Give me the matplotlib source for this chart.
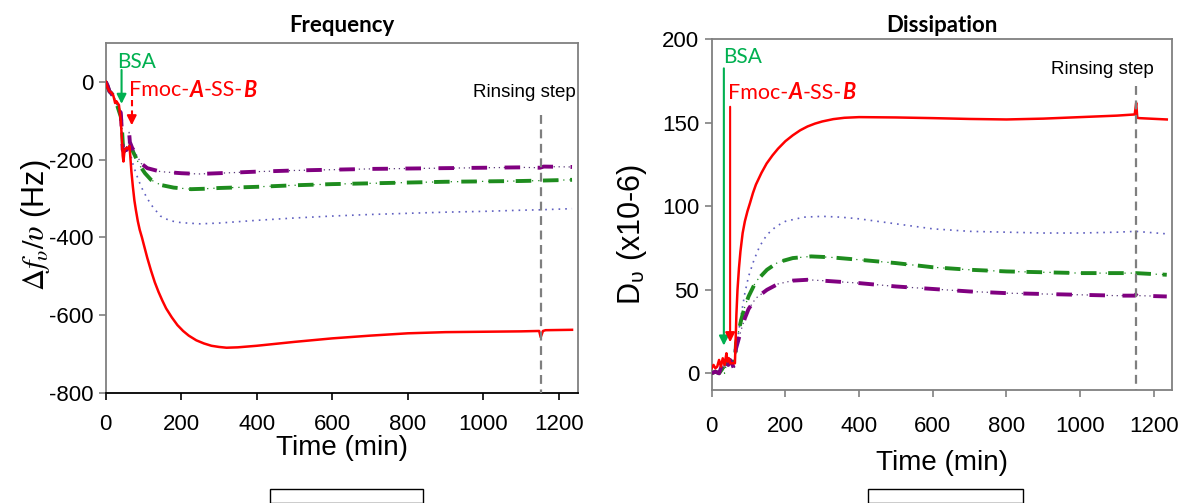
import matplotlib
matplotlib.use("Agg")
import matplotlib.pyplot as plt
from matplotlib.transforms import IdentityTransform

plt.rcParams["mathtext.fontset"] = "stix"

# ---------------- data ----------------
# Frequency panel (Hz)
f_red_t = [0, 5, 10, 15, 20, 25, 28, 35, 40, 43, 45, 47, 50, 55, 60, 63, 65, 68, 72, 76, 80, 85, 90, 96, 100,
           110, 120, 130, 140, 150, 160, 175, 190, 205, 220, 240, 260, 280, 300, 320, 350, 400, 500, 600, 700,
           800, 900, 1000, 1100, 1148, 1152, 1158, 1165, 1235]
f_red_v = [0, -15, -25, -28, -35, -55, -50, -60, -100, -150, -190, -205, -175, -170, -172, -165, -190, -230,
           -270, -305, -330, -358, -380, -400, -415, -452, -485, -515, -540, -562, -582, -605, -625, -640,
           -652, -664, -672, -678, -681, -683, -682, -678, -668, -659, -652, -646, -643, -642, -641, -640,
           -656, -640, -638, -637]

f_pur_t = [0, 5, 10, 15, 20, 25, 30, 35, 40, 43, 45, 48, 52, 56, 60, 62, 64, 70, 80, 94, 110, 145, 200, 246,
           300, 400, 500, 600, 700, 800, 900, 1000, 1100, 1150, 1160, 1235]
f_pur_v = [0, -10, -25, -30, -40, -50, -55, -70, -80, -130, -175, -180, -175, -175, -165, -130, -155, -170,
           -185, -210, -222, -231, -235, -237, -235, -231, -228, -226, -224, -223, -222, -221, -220, -221,
           -218, -219]

f_grn_t = [0, 5, 10, 15, 20, 25, 30, 35, 40, 43, 46, 50, 55, 60, 63, 66, 70, 80, 90, 104, 120, 145, 180, 226,
           260, 300, 400, 500, 600, 700, 800, 900, 1000, 1100, 1150, 1235]
f_grn_v = [0, -12, -25, -30, -35, -45, -60, -75, -90, -120, -170, -175, -170, -165, -158, -165, -175, -195,
           -215, -235, -252, -265, -272, -276, -275, -273, -270, -266, -263, -261, -259, -257, -256, -255,
           -254, -252]

f_blu_t = [0, 10, 20, 30, 40, 45, 55, 63, 70, 80, 94, 110, 125, 145, 170, 200, 250, 300, 400, 500, 600, 700,
           800, 900, 1000, 1100, 1150, 1235]
f_blu_v = [0, -25, -35, -60, -90, -170, -175, -170, -205, -235, -270, -300, -322, -345, -357, -362, -365,
           -363, -356, -350, -345, -341, -338, -335, -333, -330, -329, -326]

# Dissipation panel (x1e-6)
d_red_t = [0, 5, 10, 15, 20, 25, 30, 35, 40, 43, 47, 50, 55, 60, 63, 65, 67, 70, 74, 78, 84, 90, 97, 104, 112,
           120, 135, 149, 165, 180, 200, 220, 240, 260, 280, 300, 330, 360, 400, 500, 600, 700, 800, 900,
           1000, 1100, 1148, 1152, 1155, 1160, 1235]
d_red_v = [3, 5, 3, 4, 8, 4, 9, 5, 12, 7, 9, 6, 6, 6, 6, 20, 35, 50, 63, 73, 84, 91, 97, 102, 108, 113, 120,
           125.6, 130.5, 134.5, 139, 142.5, 145.5, 147.8, 149.5, 150.8, 152.2, 153, 153.4, 153.2, 152.8, 152.3,
           152, 152.5, 153.4, 154.3, 155, 162, 153, 152.8, 152]

d_blu_t = [0, 20, 40, 63, 70, 80, 90, 100, 115, 130, 150, 175, 200, 250, 300, 350, 400, 500, 600, 700, 800,
           900, 1000, 1100, 1150, 1235]
d_blu_v = [0, 1, 5, 8, 20, 35, 48, 58, 68, 76, 83, 88, 91, 93.5, 94, 93.5, 92.5, 89.5, 86.5, 85, 84.5, 84,
           84, 84.5, 85, 83.5]

d_grn_t = [0, 10, 20, 30, 35, 40, 45, 50, 55, 60, 63, 66, 70, 80, 90, 100, 120, 150, 180, 220, 270, 320, 400,
           500, 600, 700, 800, 900, 1000, 1100, 1150, 1235]
d_grn_v = [0, 1, 0, 3, 0, 6, 8, 6, 7, 7, 6, 18, 22, 32, 40, 46, 55, 62, 66.5, 69, 70, 69.5, 68, 66, 63.5, 62,
           61, 60.5, 60, 60, 60, 59]

d_pur_t = [0, 10, 20, 25, 30, 35, 40, 45, 50, 55, 60, 63, 65, 70, 80, 90, 100, 120, 150, 180, 220, 260, 300,
           400, 500, 600, 700, 800, 900, 1000, 1100, 1148, 1155, 1160, 1235]
d_pur_v = [0, 1, 0, 3, 6, 3, 7, 5, 8, 6, 3, 4, 14, 18, 26, 33, 38.5, 45, 50, 53.5, 55.5, 56, 55.5, 54, 52,
           50.5, 49, 48, 47.5, 47, 46.5, 46.5, 48, 46.5, 46]

x_ticks = [0, 200, 400, 600, 800, 1000, 1200]
f_yticks = [0, -200, -400, -600, -800]
d_yticks = [0, 50, 100, 150, 200]
rinse_t = 1152

# ---------------- style ----------------
W, H = 1184, 503
fig = plt.figure(figsize=(W / 100, H / 100), dpi=100)
TICKFONT = "Liberation Sans"
CAL = "Lato"
RED = "#ff0000"
GRN_TXT = "#00b050"
GRN = "#1e8c1e"
PUR = "#800080"
BLU = "#5f5fc0"
SPINE = "#808080"


def fpos(l, r, t, b):
    return [l / W, 1 - b / H, (r - l) / W, (b - t) / H]


axF = fig.add_axes(fpos(105.7, 577.7, 42.7, 393.3))
axD = fig.add_axes(fpos(711.7, 1172.3, 39.3, 390.0))


def draw_series(ax, red, blu, grn, pur):
    ax.plot(*blu, color=BLU, lw=1.2, ls=(0, (1, 3)), zorder=2)
    ax.plot(*grn, color=GRN, lw=0.9, ls=(0, (1, 4)), zorder=3)
    ax.plot(*grn, color=GRN, lw=2.8, ls=(0, (4, 3)), zorder=3)
    ax.plot(*pur, color="#5a3a7a", lw=0.9, ls=(0, (1, 3)), zorder=3)
    ax.plot(*pur, color=PUR, lw=2.8, ls=(0, (4, 4.5)), zorder=3)
    ax.plot(*red, color=RED, lw=1.8, zorder=4)


draw_series(axF, (f_red_t, f_red_v), (f_blu_t, f_blu_v), (f_grn_t, f_grn_v), (f_pur_t, f_pur_v))
draw_series(axD, (d_red_t, d_red_v), (d_blu_t, d_blu_v), (d_grn_t, d_grn_v), (d_pur_t, d_pur_v))

axF.set_xlim(0, 1250)
axF.set_ylim(-800, 100)
axD.set_xlim(0, 1250)
axD.set_ylim(-10, 200)

for ax, yt in ((axF, f_yticks), (axD, d_yticks)):
    ax.set_xticks(x_ticks)
    ax.set_yticks(yt)
    ax.set_xticklabels([str(v) for v in x_ticks], fontfamily=TICKFONT, fontsize=16)
    ax.set_yticklabels([str(v) for v in yt], fontfamily=TICKFONT, fontsize=16)
    ax.tick_params(direction="out", length=5, width=1.2, color=SPINE)
    for s in ax.spines.values():
        s.set_color(SPINE)
        s.set_linewidth(1.3)
axF.spines["bottom"].set_color("black")
axF.tick_params(axis="x", pad=10, color="black")
axD.tick_params(axis="x", pad=14)
axF.tick_params(axis="y", pad=4)
axD.tick_params(axis="y", pad=4)

# rinsing step lines
axF.plot([rinse_t, rinse_t], [-85, -800], color="#7f7f7f", lw=1.6, ls=(0, (4, 2.5)), zorder=5)
axD.plot([rinse_t, rinse_t], [172, -10], color="#7f7f7f", lw=1.6, ls=(0, (4, 2.5)), zorder=5)
axF.text(1245, -27, "Rinsing step", fontfamily=TICKFONT, fontsize=13.5, ha="right", va="center")
axD.text(1200, 182, "Rinsing step", fontfamily=TICKFONT, fontsize=13.5, ha="right", va="center")

# titles / labels
fig.text(341.7 / W, 1 - 25 / H, "Frequency", fontfamily=CAL, fontweight="bold", fontsize=16,
         ha="center", va="center")
fig.text(942 / W, 1 - 25 / H, "Dissipation", fontfamily=CAL, fontweight="bold", fontsize=16,
         ha="center", va="center")
fig.text(341.7 / W, 1 - 448 / H, "Time (min)", fontfamily=TICKFONT, fontsize=20, ha="center", va="center")
fig.text(942 / W, 1 - 463 / H, "Time (min)", fontfamily=TICKFONT, fontsize=20, ha="center", va="center")
fig.text(36 / W, 1 - 225 / H, r"$\Delta f_{\upsilon}/\upsilon$ (Hz)", fontfamily=TICKFONT, fontsize=22,
         rotation=90, ha="center", va="center")
fig.text(632 / W, 1 - 235 / H, r"D$_{\mathregular{\upsilon}}$ (x10-6)", fontfamily=TICKFONT, fontsize=22,
         rotation=90, ha="center", va="center")

# empty boxes at bottom
for (l, r) in ((270, 423), (868, 1023)):
    fig.add_artist(plt.Rectangle((l / W, 0), (r - l) / W, 14 / H, transform=fig.transFigure,
                                 fill=False, ec="black", lw=1.0))

# annotations
renderer = fig.canvas.get_renderer()


def rich(ax, x, y, pieces, size):
    x0, y0 = ax.transData.transform((x, y))
    for s, weight, style in pieces:
        t = fig.text(x0, y0, s, transform=IdentityTransform(), fontfamily=CAL, fontsize=size,
                     fontweight=weight, fontstyle=style, color=RED, ha="left", va="center", zorder=10)
        bb = t.get_window_extent(renderer=renderer)
        x0 = bb.x1


pieces = [("Fmoc-", "normal", "normal"), ("A", "bold", "italic"), ("-SS-", "normal", "normal"),
          ("B", "bold", "italic")]

# Frequency panel
axF.text(30, 50, "BSA", fontfamily=CAL, fontsize=15, color=GRN_TXT, ha="left", va="center")
axF.annotate("", xy=(42, -57), xytext=(42, 30),
             arrowprops=dict(arrowstyle="-|>", color=GRN_TXT, lw=1.5, mutation_scale=14, shrinkA=0, shrinkB=0))
rich(axF, 63, -22, pieces, 15.5)
axF.plot([69, 69], [-48, -90], color=RED, lw=1.5, ls=(0, (3, 2)))
axF.annotate("", xy=(69, -112), xytext=(69, -88),
             arrowprops=dict(arrowstyle="-|>", color=RED, lw=1.5, mutation_scale=14, shrinkA=0, shrinkB=0))

# Dissipation panel
axD.text(30, 189.5, "BSA", fontfamily=CAL, fontsize=15, color=GRN_TXT, ha="left", va="center")
axD.annotate("", xy=(33, 16.6), xytext=(33, 182.6),
             arrowprops=dict(arrowstyle="-|>", color=GRN_TXT, lw=1.5, mutation_scale=14, shrinkA=0, shrinkB=0))
rich(axD, 45, 168, pieces, 15.5)
axD.annotate("", xy=(50, 18.6), xytext=(50, 159.6),
             arrowprops=dict(arrowstyle="-|>", color=RED, lw=1.5, mutation_scale=14, shrinkA=0, shrinkB=0))

fig.savefig("out.png", dpi=100)
